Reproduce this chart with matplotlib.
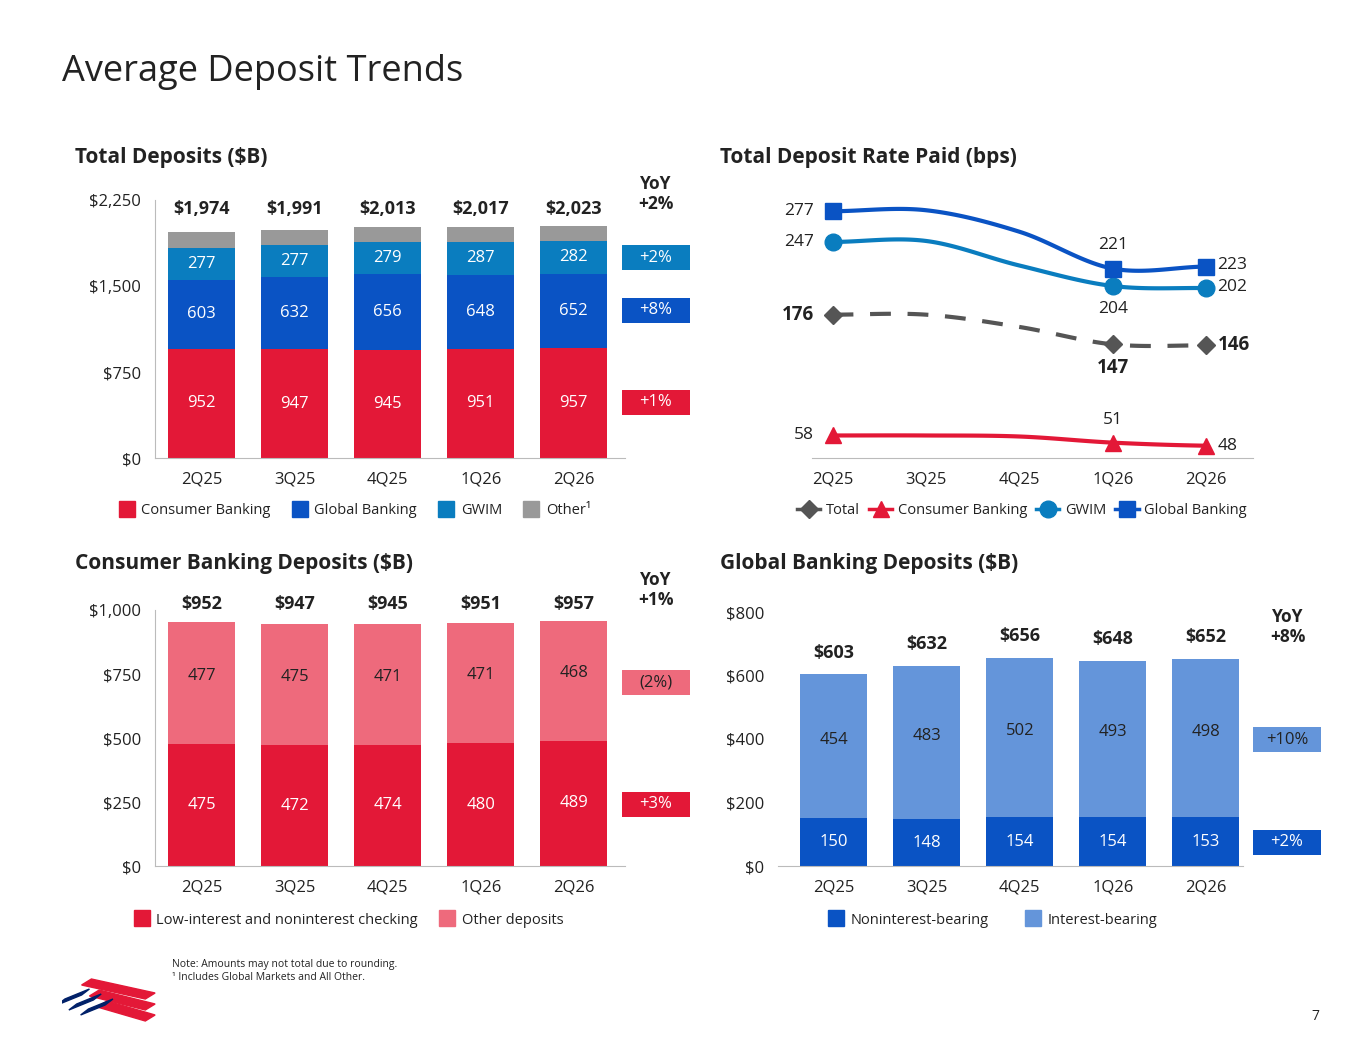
import numpy as np
import matplotlib.pyplot as plt
from matplotlib.lines import Line2D

plt.rcParams['font.family'] = ['Open Sans', 'DejaVu Sans']

W, H = 1365, 1055
quarters = ['2Q25', '3Q25', '4Q25', '1Q26', '2Q26']

# Total deposits ($B)
consumer = [952, 947, 945, 951, 957]
global_bk = [603, 632, 656, 648, 652]
gwim = [277, 277, 279, 287, 282]
totals = [1974, 1991, 2013, 2017, 2023]
other = [t - c - g - w for t, c, g, w in zip(totals, consumer, global_bk, gwim)]

# Deposit rate paid (bps); 3Q25/4Q25 estimated from curve
rate_total = [176, 176, 164, 147, 146]
rate_consumer = [58, 58, 57, 51, 48]
rate_gwim = [247, 248, 224, 204, 202]
rate_global = [277, 278, 257, 221, 223]

# Consumer banking deposits
cb_checking = [475, 472, 474, 480, 489]
cb_other = [477, 475, 471, 471, 468]
cb_totals = [952, 947, 945, 951, 957]

# Global banking deposits
gb_nonint = [150, 148, 154, 154, 153]
gb_int = [454, 483, 502, 493, 498]
gb_totals = [603, 632, 656, 648, 652]

RED = '#E31837'
PINK = '#EE6A7C'
BLUE = '#0A53C4'
TEAL = '#0A7DBF'
GRAY = '#999999'
LBLUE = '#6495DA'
DARK = '#222222'

fig = plt.figure(figsize=(W / 100, H / 100), dpi=100)


def ax_px(l, t, r, b):
    return fig.add_axes([l / W, 1 - b / H, (r - l) / W, (b - t) / H])


def ftext(x, y, s, **kw):
    fig.text(x / W, 1 - y / H, s, **kw)


def style(ax, left=True):
    for s in ['top', 'right']:
        ax.spines[s].set_visible(False)
    ax.spines['left'].set_visible(left)
    ax.spines['left'].set_color('#BBBBBB')
    ax.spines['bottom'].set_color('#BBBBBB')
    ax.tick_params(length=0, labelsize=12, colors=DARK, pad=10)
    ax.set_facecolor('none')


x = np.arange(5)
bw = 0.72

# ---- Total deposits
ax1 = ax_px(155, 200, 625, 458)
bottom = np.zeros(5)
for vals, col, lab in [(consumer, RED, True), (global_bk, BLUE, True),
                       (gwim, TEAL, True), (other, GRAY, False)]:
    ax1.bar(x, vals, bw, bottom=bottom, color=col)
    if lab:
        for i, v in enumerate(vals):
            ax1.text(x[i], bottom[i] + v / 2, f'{v}', ha='center', va='center',
                     color='white', fontsize=12)
    bottom += np.array(vals)
for i, t in enumerate(totals):
    ax1.text(x[i], 2170, f'${t:,}', ha='center', va='center', fontsize=13,
             fontweight='bold', color=DARK)
ax1.set_ylim(0, 2250)
ax1.set_xlim(-0.5, 4.55)
ax1.set_yticks([0, 750, 1500, 2250])
ax1.set_yticklabels(['$0', '$750', '$1,500', '$2,250'])
ax1.set_xticks(x)
ax1.set_xticklabels(quarters)
style(ax1)

# ---- Rate paid
def smooth(xs, ys, n=30):
    xs = np.asarray(xs, float); ys = np.asarray(ys, float)
    px = np.concatenate([[2 * xs[0] - xs[1]], xs, [2 * xs[-1] - xs[-2]]])
    py = np.concatenate([[ys[0]], ys, [ys[-1]]])
    ox, oy = [], []
    for i in range(1, len(px) - 2):
        t = np.linspace(0, 1, n)
        p0, p1, p2, p3 = py[i - 1], py[i], py[i + 1], py[i + 2]
        oy.extend(0.5 * (2 * p1 + (-p0 + p2) * t + (2 * p0 - 5 * p1 + 4 * p2 - p3) * t ** 2
                         + (-p0 + 3 * p1 - 3 * p2 + p3) * t ** 3))
        ox.extend(px[i] + (px[i + 1] - px[i]) * t)
    return ox, oy

ax2 = ax_px(812, 200, 1253, 458)
mi = [0, 3, 4]
series = [(rate_total, '#555555', 'D', (0, (5, 4)), 9),
          (rate_consumer, RED, '^', '-', 11),
          (rate_gwim, TEAL, 'o', '-', 12),
          (rate_global, BLUE, 's', '-', 11)]
for ys, col, mk, ls, ms in series:
    sx, sy = smooth(x, ys)
    ax2.plot(sx, sy, color=col, lw=3, ls=ls)
    ax2.plot(x[mi], np.array(ys)[mi], ls='none', marker=mk, color=col, ms=ms)
ax2.set_ylim(36, 288)
ax2.set_xlim(-0.22, 4.5)
ax2.set_yticks([])
ax2.set_xticks(x)
ax2.set_xticklabels(quarters)
style(ax2, left=False)
ls = dict(fontsize=12.5, color=DARK, va='center')
bl = dict(fontweight='bold', fontsize=13.5, color=DARK, va='center')
ax2.text(-0.2, 277, '277', ha='right', **ls)
ax2.text(-0.2, 247, '247', ha='right', **ls)
ax2.text(-0.2, 176, '176', ha='right', **bl)
ax2.text(-0.2, 58, '58', ha='right', **ls)
ax2.text(3, 244, '221', ha='center', **ls)
ax2.text(3, 182, '204', ha='center', **ls)
ax2.text(3, 124, '147', ha='center', **bl)
ax2.text(3, 73, '51', ha='center', **ls)
ax2.text(4.12, 225, '223', ha='left', **ls)
ax2.text(4.12, 203, '202', ha='left', **ls)
ax2.text(4.12, 146, '146', ha='left', **bl)
ax2.text(4.12, 48, '48', ha='left', **ls)

# ---- Consumer banking
ax3 = ax_px(155, 610, 625, 866)
ax3.bar(x, cb_checking, bw, color=RED)
ax3.bar(x, cb_other, bw, bottom=cb_checking, color=PINK)
for i in range(5):
    ax3.text(x[i], cb_checking[i] / 2, f'{cb_checking[i]}', ha='center', va='center', color='white', fontsize=12)
    ax3.text(x[i], cb_checking[i] + cb_other[i] / 2 + 30, f'{cb_other[i]}', ha='center', va='center', color=DARK, fontsize=12)
    ax3.text(x[i], 1022, f'${cb_totals[i]}', ha='center', va='center', fontsize=13, fontweight='bold', color=DARK)
ax3.set_ylim(0, 1000)
ax3.set_xlim(-0.5, 4.55)
ax3.set_yticks([0, 250, 500, 750, 1000])
ax3.set_yticklabels(['$0', '$250', '$500', '$750', '$1,000'])
ax3.set_xticks(x)
ax3.set_xticklabels(quarters)
style(ax3)

# ---- Global banking
ax4 = ax_px(778, 612, 1243, 866)
ax4.bar(x, gb_nonint, bw, color=BLUE)
ax4.bar(x, gb_int, bw, bottom=gb_nonint, color=LBLUE)
for i in range(5):
    ax4.text(x[i], gb_nonint[i] / 2, f'{gb_nonint[i]}', ha='center', va='center', color='white', fontsize=12)
    ax4.text(x[i], gb_nonint[i] + gb_int[i] / 2 + 20, f'{gb_int[i]}', ha='center', va='center', color=DARK, fontsize=12)
    ax4.text(x[i], gb_totals[i] + 68, f'${gb_totals[i]}', ha='center', va='center', fontsize=13, fontweight='bold', color=DARK)
ax4.set_ylim(0, 800)
ax4.set_xlim(-0.6, 4.4)
ax4.set_yticks([0, 200, 400, 600, 800])
ax4.set_yticklabels(['$0', '$200', '$400', '$600', '$800'])
ax4.set_xticks(x)
ax4.set_xticklabels(quarters)
style(ax4, left=False)

# ---- YoY boxes
def box(l, t, r, b, s, col, tc='white'):
    a = ax_px(l, t, r, b)
    a.set_axis_off()
    a.add_patch(plt.Rectangle((0, 0), 1, 1, color=col, transform=a.transAxes))
    a.text(0.5, 0.5, s, ha='center', va='center', color=tc, fontsize=12, transform=a.transAxes)

box(622, 245, 690, 270, '+2%', TEAL)
box(622, 298, 690, 323, '+8%', BLUE)
box(622, 390, 690, 415, '+1%', RED)
box(622, 670, 690, 695, '(2%)', PINK, DARK)
box(622, 792, 690, 817, '+3%', RED)
box(1253, 727, 1321, 752, '+10%', LBLUE, DARK)
box(1253, 830, 1321, 855, '+2%', BLUE)
yb = dict(ha='center', va='center', fontsize=12.5, fontweight='bold', color=DARK, linespacing=1.1)
ftext(656, 194, 'YoY\n+2%', **yb)
ftext(656, 590, 'YoY\n+1%', **yb)
ftext(1288, 627, 'YoY\n+8%', **yb)

# ---- Titles
ftext(62, 72, 'Average Deposit Trends', fontsize=26, va='center', color=DARK)
tt = dict(fontsize=15, fontweight='bold', va='center', color=DARK)
ftext(75, 157, 'Total Deposits ($B)', **tt)
ftext(720, 157, 'Total Deposit Rate Paid (bps)', **tt)
ftext(75, 563, 'Consumer Banking Deposits ($B)', **tt)
ftext(720, 563, 'Global Banking Deposits ($B)', **tt)

# ---- Legends
def sq(c):
    return Line2D([], [], ls='none', marker='s', ms=12, color=c)

lk = dict(loc='center', frameon=False, fontsize=10.5, handlelength=1.0, handletextpad=0.5,
          columnspacing=1.5, labelcolor=DARK)
fig.legend([sq(RED), sq(BLUE), sq(TEAL), sq(GRAY)],
           ['Consumer Banking', 'Global Banking', 'GWIM', 'Other\u00b9'],
           bbox_to_anchor=(355 / W, 1 - 511 / H), ncol=4, **lk)
fig.legend([Line2D([], [], color=c, marker=m, lw=2.5, ms=ms) for _, c, m, _, ms in series],
           ['Total', 'Consumer Banking', 'GWIM', 'Global Banking'],
           bbox_to_anchor=(1022 / W, 1 - 511 / H), ncol=4, loc='center', frameon=False,
           fontsize=10.5, handlelength=1.6, handletextpad=0.4, columnspacing=0.6, labelcolor=DARK)
fig.legend([sq(RED), sq(PINK)], ['Low-interest and noninterest checking', 'Other deposits'],
           bbox_to_anchor=(349 / W, 1 - 920 / H), ncol=2, **lk)
fig.legend([sq(BLUE), sq(LBLUE)], ['Noninterest-bearing', 'Interest-bearing'],
           bbox_to_anchor=(993 / W, 1 - 920 / H), ncol=2, **{**lk, 'columnspacing': 2.5})

ftext(172, 964, 'Note: Amounts may not total due to rounding.', fontsize=7.5, va='center', color=DARK)
ftext(172, 978, '\u00b9 Includes Global Markets and All Other.', fontsize=7.5, va='center', color=DARK)
ftext(1315, 1017, '7', fontsize=10, va='center', ha='center', color=DARK)

# simple flag-stripe logo
lg = ax_px(62, 975, 160, 1025)
lg.set_axis_off()
lg.set_xlim(0, 10); lg.set_ylim(0, 5)
for k in range(3):
    lg.fill([3 + k * 0.8, 9.5, 8.5, 2 + k * 0.8], [4.6 - k * 1.1, 3.2 - k * 1.1, 2.6 - k * 1.1, 4.0 - k * 1.1], color=RED)
for k in range(3):
    lg.fill([0.3 + k * 1.2, 2.8 + k * 1.2, 2.0 + k * 1.2, -0.5 + k * 1.2],
            [2.6 - k * 0.5, 3.6 - k * 0.5, 3.0 - k * 0.5, 2.0 - k * 0.5], color='#012169')

fig.savefig('out.png', dpi=100)
